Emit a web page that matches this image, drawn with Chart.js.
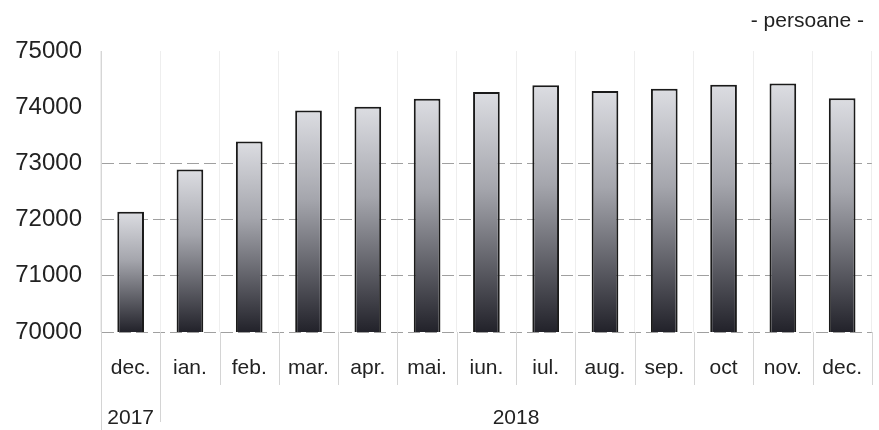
<!DOCTYPE html>
<html>
<head>
<meta charset="utf-8">
<script src="https://cdn.jsdelivr.net/npm/chart.js@4"></script>
<style>
  html, body { margin: 0; padding: 0; background: #fff; overflow: hidden; }
  #wrap { width: 886px; height: 430px; }
</style>
</head>
<body>
<div id="wrap"><canvas id="myChart"></canvas></div>
<script>
const categories = ['dec.', 'ian.', 'feb.', 'mar.', 'apr.', 'mai.', 'iun.', 'iul.', 'aug.', 'sep.', 'oct', 'nov.', 'dec.'];
const values = [72140, 72890, 73390, 73940, 74010, 74150, 74270, 74390, 74290, 74330, 74400, 74420, 74160];
const years = ['2017', '2018'];
const yearSpans = [[0, 0], [1, 12]];
const yMin = 70000;
const yMax = 75000;
const yStep = 1000;
const unitLabel = '- persoane -';

const sans = "'Liberation Sans', Arial, sans-serif";

function barGradient(context) {
  const chart = context.chart;
  const area = chart.chartArea;
  if (!area || context.dataIndex === undefined) return '#888';
  const top = chart.scales.y.getPixelForValue(values[context.dataIndex]);
  const g = chart.ctx.createLinearGradient(0, top, 0, area.bottom);
  g.addColorStop(0, '#dcdde2');
  g.addColorStop(0.4, '#a5a6ad');
  g.addColorStop(1, '#22222a');
  return g;
}

const extras = {
  id: 'extras',
  afterDraw(chart) {
    const ctx = chart.ctx;
    const x = chart.scales.x;
    const area = chart.chartArea;
    const w = (area.right - area.left) / categories.length;
    ctx.save();
    // category separators running into the label area
    ctx.strokeStyle = '#d4d4d4';
    ctx.lineWidth = 1;
    for (let i = 0; i <= categories.length; i++) {
      const px = Math.round(area.left + i * w) + 0.5;
      let bottom = 385;
      if (i === 0) bottom = 430;
      if (i === 1) bottom = 422;
      ctx.beginPath();
      ctx.moveTo(px, area.bottom);
      ctx.lineTo(px, bottom);
      ctx.stroke();
    }
    // year labels
    ctx.fillStyle = '#222';
    ctx.font = '21px ' + sans;
    ctx.textAlign = 'center';
    ctx.textBaseline = 'middle';
    years.forEach((y, k) => {
      const a = x.getPixelForValue(yearSpans[k][0]);
      const b = x.getPixelForValue(yearSpans[k][1]);
      ctx.fillText(y, (a + b) / 2, 418);
    });
    // unit
    ctx.font = '21px ' + sans;
    ctx.textAlign = 'right';
    ctx.fillText(unitLabel, 864, 21);
    ctx.restore();
  }
};

new Chart(document.getElementById('myChart'), {
  type: 'bar',
  data: {
    labels: categories,
    datasets: [{
      data: values,
      backgroundColor: barGradient,
      borderColor: '#1a1a1a',
      borderWidth: 2,
      borderSkipped: 'bottom',
      barPercentage: 0.45,
      categoryPercentage: 1
    }]
  },
  options: {
    responsive: true,
    maintainAspectRatio: false,
    animation: false,
    layout: { padding: { top: 51, left: 0, right: 0, bottom: 0 } },
    plugins: { legend: { display: false }, tooltip: { enabled: false } },
    scales: {
      x: {
        afterFit: s => { s.height = 98; },
        grid: { display: true, drawTicks: false, color: '#eeeeee' },
        border: { display: false },
        ticks: {
          color: '#222',
          font: { family: sans, size: 21 },
          padding: 24,
          maxRotation: 0,
          autoSkip: false
        }
      },
      y: {
        min: yMin,
        max: yMax,
        afterFit: s => { s.width = 101; },
        border: { display: true, color: '#d6d6d6', dash: [12, 5] },
        grid: {
          drawTicks: false,
          color: c => (c.tick && c.tick.value <= 73000) ? '#a0a0a0' : 'rgba(0,0,0,0)',
          lineWidth: 1
        },
        ticks: {
          stepSize: yStep,
          color: '#222',
          padding: 19,
          font: { family: sans, size: 24 },
          callback: v => String(v)
        }
      }
    }
  },
  plugins: [extras]
});
</script>
</body>
</html>
